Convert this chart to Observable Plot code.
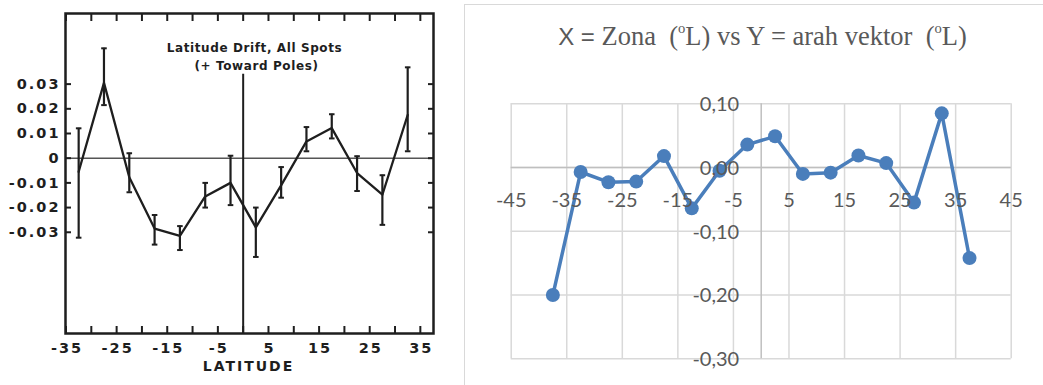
<!DOCTYPE html>
<html>
<head>
<meta charset="utf-8">
<script src="https://cdn.jsdelivr.net/npm/d3@7"></script>
<script src="https://cdn.jsdelivr.net/npm/@observablehq/plot@0.6"></script>
<style>
  html, body { margin: 0; padding: 0; background: #fff; overflow: hidden; }
  #wrap { position: relative; width: 1043px; height: 385px; overflow: hidden; }
  #left { position: absolute; left: 0; top: 0; }
  #box { position: absolute; left: 464px; top: 4px; width: 620px; height: 420px; border: 1.5px solid #d9d9d9; box-sizing: border-box; }
  #right { position: absolute; left: 465px; top: 0; }
  #title { position: absolute; left: 465px; width: 595px; top: 23px; line-height: 26px; text-align: center;
           font-family: "Liberation Serif", serif; font-size: 26.5px; color: #595959; white-space: pre; }
  #title .sans { font-family: "Liberation Sans", sans-serif; font-size: 24px; }
  #title .deg { font-size: 0.55em; position: relative; top: -0.8em; }
</style>
</head>
<body>
<div id="wrap">
  <div id="left"></div>
  <div id="box"></div>
  <div id="right"></div>
  <div id="title"><span class="sans">X = </span>Zona  (<span class="deg">o</span>L) vs Y = arah vektor  (<span class="deg">o</span>L)</div>
</div>
<script>
// ---- Left chart: Latitude drift, all spots (with error bars) ----
const leftLat   = [-32.5, -27.5, -22.5, -17.5, -12.5, -7.5, -2.5, 2.5, 7.5, 12.5, 17.5, 22.5, 27.5, 32.5];
const leftDrift = [-0.0055, 0.0305, -0.0077, -0.0285, -0.0315, -0.0155, -0.010, -0.028, -0.011, 0.0068, 0.0122, -0.006, -0.0148, 0.0175];
const leftLow   = [-0.0322, 0.0215, -0.0138, -0.035, -0.0372, -0.020, -0.019, -0.040, -0.016, 0.0028, 0.008, -0.0133, -0.027, 0.0028];
const leftHigh  = [0.0121, 0.0445, 0.002, -0.023, -0.0275, -0.010, 0.001, -0.020, -0.0036, 0.0126, 0.0178, 0.0008, -0.0069, 0.0368];
const leftXTickMarks  = [-35, -30, -25, -20, -15, -10, -5, 0, 5, 10, 15, 20, 25, 30, 35];
const leftXTickLabels = [-35, -25, -15, -5, 5, 15, 25, 35];
const leftYTicks = [-0.03, -0.02, -0.01, 0, 0.01, 0.02, 0.03];
const leftNote = ["Latitude Drift, All Spots", "(+ Toward Poles)"];
const leftXLabel = "LATITUDE";

// ---- Right chart: X = Zona vs Y = arah vektor ----
const rightZone   = [-37.5, -32.5, -27.5, -22.5, -17.5, -12.5, -7.5, -2.5, 2.5, 7.5, 12.5, 17.5, 22.5, 27.5, 32.5, 37.5];
const rightVector = [-0.200, -0.007, -0.023, -0.022, 0.018, -0.064, -0.005, 0.036, 0.049, -0.010, -0.008, 0.019, 0.007, -0.055, 0.085, -0.142];
const rightXTicks = [-45, -35, -25, -15, -5, 5, 15, 25, 35, 45];
const rightYTicks = [-0.3, -0.2, -0.1, 0, 0.1];

const ink = "#1e1e1e";
const leftYDomain = [-0.071, 0.0586];
const dividerTop = 0.034;
const capHalf = 0.55;

const leftData = leftLat.map((lat, i) => ({lat, drift: leftDrift[i], lo: leftLow[i], hi: leftHigh[i]}));

const leftPlot = Plot.plot({
  width: 450, height: 385,
  marginLeft: 65, marginRight: 17, marginTop: 13, marginBottom: 52,
  x: {domain: [-35.1, 37.6], label: null},
  y: {domain: leftYDomain, label: null},
  style: {fontFamily: "DejaVu Sans", fontWeight: "bold", color: ink, background: "transparent", letterSpacing: "2px"},
  marks: [
    Plot.ruleY([0], {stroke: "#555", strokeWidth: 1.6}),
    Plot.ruleX([0], {y1: leftYDomain[0], y2: dividerTop, stroke: ink, strokeWidth: 2}),
    Plot.axisX(leftXTickMarks, {anchor: "bottom", tickSize: -7, fill: "none", strokeWidth: 2, label: null}),
    Plot.axisX(leftXTickMarks, {anchor: "top", tickSize: -7, fill: "none", strokeWidth: 2, label: null}),
    Plot.axisX(leftXTickLabels, {anchor: "bottom", tickSize: 0, tickPadding: 9, fontSize: 14.5, label: null,
      tickFormat: d => String(d), dx: 1}),
    Plot.axisY(leftYTicks, {anchor: "left", tickSize: -6, fill: "none", strokeWidth: 2, label: null}),
    Plot.axisY(leftYTicks, {anchor: "right", tickSize: -6, fill: "none", strokeWidth: 2, label: null}),
    Plot.axisY(leftYTicks, {anchor: "left", tickSize: 0, tickPadding: 5, fontSize: 14.5, label: null,
      tickFormat: d => d === 0 ? "0" : d.toFixed(2)}),
    Plot.frame({stroke: ink, strokeWidth: 2.5}),
    Plot.ruleX(leftData, {x: "lat", y1: "lo", y2: "hi", stroke: ink, strokeWidth: 2.2}),
    Plot.link(leftData, {x1: d => d.lat - capHalf, x2: d => d.lat + capHalf, y1: "lo", y2: "lo", stroke: ink, strokeWidth: 2}),
    Plot.link(leftData, {x1: d => d.lat - capHalf, x2: d => d.lat + capHalf, y1: "hi", y2: "hi", stroke: ink, strokeWidth: 2}),
    Plot.line(leftData, {x: "lat", y: "drift", stroke: ink, strokeWidth: 2.3}),
    Plot.text([leftNote[0]], {frameAnchor: "top", dx: 5, dy: 30, fontSize: 12, fill: ink}),
    Plot.text([leftNote[1]], {frameAnchor: "top", dx: 7, dy: 48, fontSize: 12, fill: ink}),
    Plot.text([leftXLabel], {frameAnchor: "bottom", dx: -1, dy: 37, fontSize: 14, fill: ink})
  ]
});
d3.select(leftPlot).selectAll("text")
  .filter(function() { return leftNote.includes(this.textContent); })
  .style("letter-spacing", "0.6px");
document.getElementById("left").appendChild(leftPlot);

const rightData = rightZone.map((zone, i) => ({zone, vector: rightVector[i]}));
const blue = "#4a7ebb";
const labelGray = "#595959";

const rightPlot = Plot.plot({
  width: 578, height: 385,
  marginLeft: 45.7, marginRight: 32.3, marginTop: 103.3, marginBottom: 26.7,
  x: {domain: [-45, 45], axis: null},
  y: {domain: [-0.3, 0.1], axis: null},
  style: {fontFamily: "Lato", background: "transparent"},
  marks: [
    Plot.ruleX(rightXTicks, {stroke: "#d9d9d9", strokeWidth: 1.5}),
    Plot.ruleY(rightYTicks, {stroke: "#d9d9d9", strokeWidth: 1.5}),
    Plot.ruleX([0], {stroke: "#bfbfbf", strokeWidth: 1.5}),
    Plot.ruleY([0], {stroke: "#bfbfbf", strokeWidth: 1.5}),
    Plot.line(rightData, {x: "zone", y: "vector", stroke: blue, strokeWidth: 3.5}),
    Plot.dot(rightData, {x: "zone", y: "vector", r: 7, fill: blue, stroke: "none"}),
    Plot.text(rightXTicks, {x: d => d, y: () => 0, dy: 33, text: d => String(d), fontSize: 20, fill: labelGray}),
    Plot.text(rightYTicks, {x: () => 0, y: d => d, dx: -22, dy: 1, textAnchor: "end",
      text: d => d.toFixed(2).replace(".", ","), fontSize: 20, fill: labelGray})
  ]
});
document.getElementById("right").appendChild(rightPlot);
</script>
</body>
</html>
